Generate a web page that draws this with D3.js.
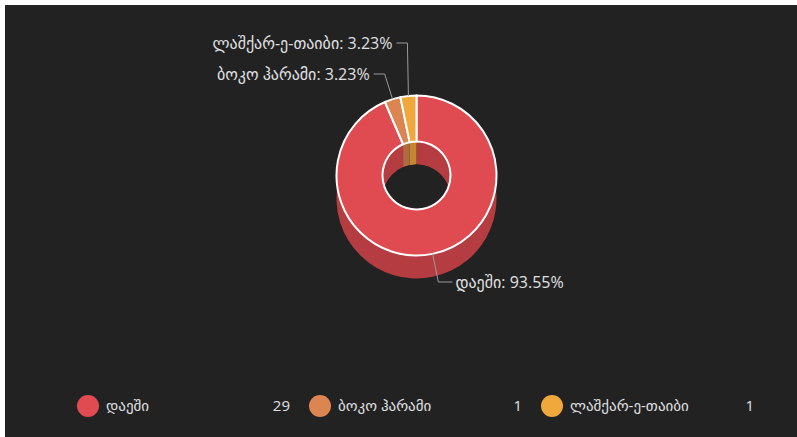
<!DOCTYPE html>
<html>
<head>
<meta charset="utf-8">
<script src="https://cdn.jsdelivr.net/npm/d3@7"></script>
<style>
  html, body { margin: 0; padding: 0; background: #fff; }
  svg text { font-family: "Segoe UI", "Open Sans", "DejaVu Sans", sans-serif; }
</style>
</head>
<body>
<div id="chart"></div>
<script>
// 3D donut - groups
const categories = ["დაეში", "ბოკო ჰარამი", "ლაშქარ-ე-თაიბი"];
const values = [29, 1, 1];
const colors = ["#e04a51", "#dc8550", "#f0a73b"];

(() => {

const W = 797, H = 437;
const svg = d3.select("#chart")
  .append("svg")
  .attr("width", W)
  .attr("height", H);

// dark panel
svg.append("rect")
  .attr("x", 5).attr("y", 5)
  .attr("width", W - 5).attr("height", H - 5)
  .attr("fill", "#222222");

const cx = 416.5, cy = 175.5;
const outerR = 80, innerR = 34, depth = 23;
const textColor = "#e0e0e3";

const total = d3.sum(values);
const pie = d3.pie().sort(null).value(d => d);
const arcs = pie(values);

const g = svg.append("g");

// point on a circle, angle 0 at top, clockwise
const pt = (a, r, dy = 0) => [cx + r * Math.sin(a), cy + dy - r * Math.cos(a)];

// wall between the top arc and the same arc shifted down by depth
function wall(a0, a1, r) {
  const p = d3.path();
  const s = pt(a0, r);
  const e = pt(a1, r, depth);
  p.moveTo(s[0], s[1]);
  p.arc(cx, cy, r, a0 - Math.PI / 2, a1 - Math.PI / 2, false);
  p.lineTo(e[0], e[1]);
  p.arc(cx, cy + depth, r, a1 - Math.PI / 2, a0 - Math.PI / 2, true);
  p.closePath();
  return p.toString();
}

// outer side
g.selectAll(".side")
  .data(arcs)
  .join("path")
  .attr("d", d => wall(d.startAngle, d.endAngle, outerR))
  .attr("fill", (d, i) => d3.color(colors[i]).darker(0.6));

// inner wall seen through the hole
const clip = svg.append("clipPath").attr("id", "hole");
clip.append("circle").attr("cx", cx).attr("cy", cy).attr("r", innerR);

const hole = g.append("g").attr("clip-path", "url(#hole)");
hole.selectAll(".inner")
  .data(arcs)
  .join("path")
  .attr("d", d => wall(d.startAngle, d.endAngle, innerR))
  .attr("fill", (d, i) => d3.color(colors[i]).darker(0.6));
hole.append("circle")
  .attr("cx", cx).attr("cy", cy + depth).attr("r", innerR)
  .attr("fill", "#222222");

// top faces
const arc = d3.arc().innerRadius(innerR).outerRadius(outerR);
g.append("g")
  .attr("transform", `translate(${cx},${cy})`)
  .selectAll("path")
  .data(arcs)
  .join("path")
  .attr("d", arc)
  .attr("fill", (d, i) => colors[i])
  .attr("stroke", "#ffffff")
  .attr("stroke-width", 2)
  .attr("stroke-linejoin", "round");

// data labels with connectors
const labelY = [282, 74, 43];
const fmt = d3.format(".2f");
arcs.forEach((d, i) => {
  const mid = (d.startAngle + d.endAngle) / 2;
  const [x0, y0] = pt(mid, outerR);
  const dx = Math.sin(mid), dy = -Math.cos(mid);
  const t = (labelY[i] - y0) / dy;
  let bx = x0 + dx * t;
  if (i === 2) bx = x0 - 1;
  const right = dx > 0;
  const ex = right ? bx + 14 : bx - 11;
  g.append("path")
    .attr("d", d3.line()([[x0, y0], [bx, labelY[i]], [ex, labelY[i]]]))
    .attr("fill", "none")
    .attr("stroke", "#9a9a9a")
    .attr("stroke-width", 1);
  g.append("text")
    .attr("x", right ? ex + 3 : ex - 4)
    .attr("y", labelY[i])
    .attr("dy", "0.35em")
    .attr("text-anchor", right ? "start" : "end")
    .attr("fill", textColor)
    .style("font-size", "16px")
    .text(`${categories[i]}: ${fmt(values[i] / total * 100)}%`);
});

// legend
const legendX = 77, legendY = 406, itemW = 232;
const legend = svg.append("g")
  .selectAll("g")
  .data(categories)
  .join("g")
  .attr("transform", (d, i) => `translate(${legendX + i * itemW},${legendY})`);

legend.append("circle")
  .attr("cx", 11).attr("cy", 0).attr("r", 11)
  .attr("fill", (d, i) => colors[i]);
legend.append("text")
  .attr("x", 29).attr("dy", "0.35em")
  .attr("fill", textColor)
  .style("font-size", "15px")
  .text(d => d);
legend.append("text")
  .attr("x", 213).attr("dy", "0.35em")
  .attr("text-anchor", "end")
  .attr("fill", textColor)
  .style("font-size", "15px")
  .text((d, i) => values[i]);

})();
</script>
</body>
</html>
